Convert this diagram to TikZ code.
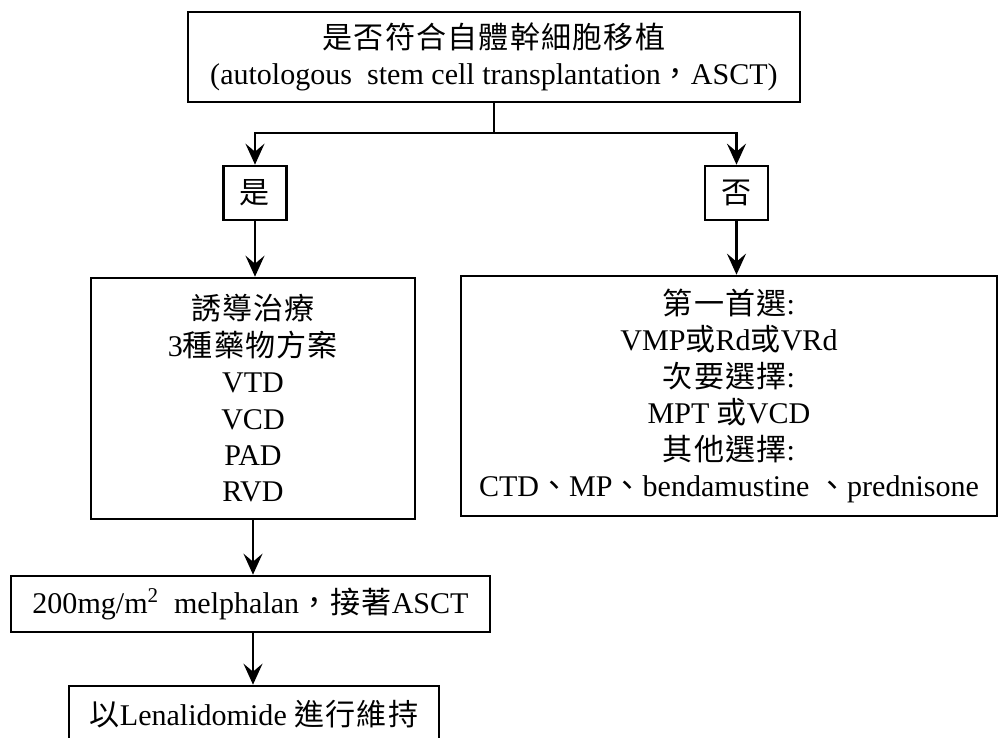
\documentclass[tikz,border=0pt]{standalone}
\usepackage{fontspec}
\setmainfont{Liberation Serif}
\newfontfamily\cjk[LetterSpace=4]{Noto Sans CJK TC}
\newcommand{\zh}[1]{{\cjk #1}}
\usetikzlibrary{arrows.meta, positioning}

\begin{document}
\begin{tikzpicture}[
  box/.style={rectangle, draw=black, line width=1.5pt, inner sep=0pt,
    align=center, font=\fontsize{17.1}{20.7}\selectfont},
  arr/.style={-{Stealth[length=0.42cm, width=0.38cm, inset=0.16cm]},
    line width=1.3pt}
]
\useasboundingbox (0,0) rectangle (20,-14.76);

% Question
\node[box, minimum width=12.24cm, minimum height=1.8cm] (q) at (9.88,-1.14)
  {\zh{是否符合自體幹細胞移植}\\(autologous\ \ stem cell transplantation\zh{，}ASCT)};

% Yes / no
\node[box, minimum width=1.26cm, minimum height=1.08cm] (yes) at (5.1,-3.86) {\zh{是}};
\node[box, minimum width=1.26cm, minimum height=1.08cm] (no) at (14.73,-3.86) {\zh{否}};

% Treatments
\node[box, minimum width=6.48cm, minimum height=4.82cm] (ind) at (5.06,-7.97)
  {\zh{誘導治療}\\3\zh{種藥物方案}\\VTD\\VCD\\PAD\\RVD};
\node[box, minimum width=10.72cm, minimum height=4.8cm] (alt) at (14.58,-7.92)
  {\zh{第一首選}:\\VMP\zh{或}Rd\zh{或}VRd\\\zh{次要選擇}:\\MPT \zh{或}VCD\\
   \zh{其他選擇}:\\CTD\zh{、}MP\zh{、}bendamustine \zh{、}prednisone};
\node[box, minimum width=9.58cm, minimum height=1.12cm] (mel) at (5.01,-12.08)
  {200mg/m\textsuperscript{2}\ \ melphalan\zh{，接著}ASCT};
\node[box, minimum width=7.4cm, minimum height=1.12cm] (keep) at (5.08,-14.28)
  {\zh{以}Lenalidomide\ \zh{進行維持}};

% Connectors
\coordinate (jn) at (q.south |- 0,-2.66);
\draw[line width=1.3pt] (q.south) -- (jn);
\draw[arr] (jn) -| (yes);
\draw[arr] (jn) -| (no);
\draw[arr] (yes.south) -- (yes.south |- ind.north);
\draw[arr] (no.south) -- (no.south |- alt.north);
\draw[arr] (ind.south) -- (ind.south |- mel.north);
\draw[arr] (mel.south -| ind.south) -- (ind.south |- keep.north);

\end{tikzpicture}
\end{document}
